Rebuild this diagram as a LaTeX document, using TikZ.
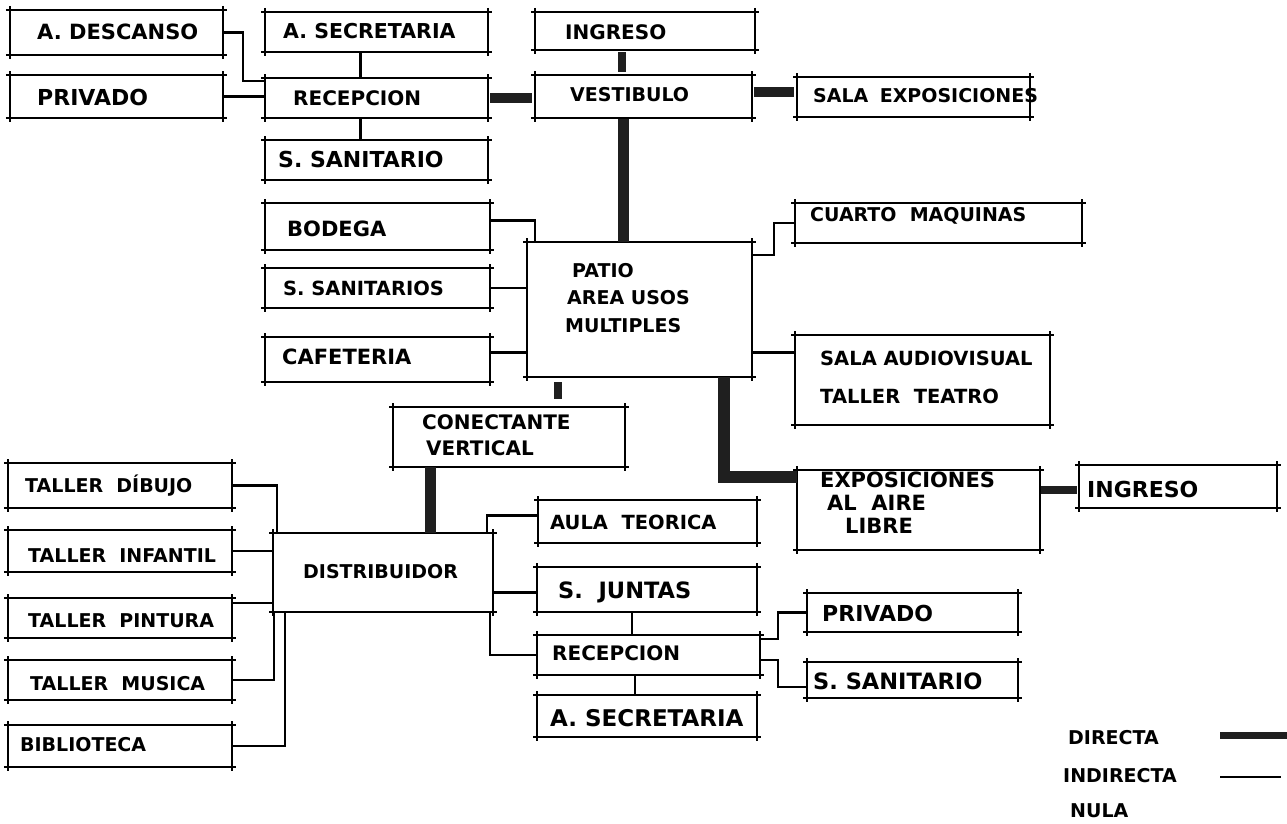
\documentclass[tikz,border=0pt]{standalone}
\usepackage{fontspec}
\setmainfont{DejaVu Sans}
\usetikzlibrary{calc}
\tikzset{
  box/.style={rectangle, draw=none, inner sep=0pt, outer sep=0pt},
  boxline/.style={line width=1.2bp, black},
  lbl/.style={anchor=west, align=left, inner sep=0pt, font=\bfseries\fontsize{19bp}{25bp}\selectfont},
  fs/.style 2 args={font=\bfseries\fontsize{#1bp}{#2bp}\selectfont},
  ind/.style={line width=2.3bp, black},
  dir/.style={line width=10bp, black!88},
}
\newcommand\bx[9][]{%
  \pgfmathsetmacro\bxw{#5-#3}%
  \pgfmathsetmacro\bxh{#6-#4}%
  \node[box, minimum width=\bxw bp, minimum height=\bxh bp] (#2) at ({(#3+#5)/2},{(#4+#6)/2}) {};
  \draw[boxline] ([xshift=-4bp]#2.north west) -- ([xshift=4bp]#2.north east)
    ([xshift=-4bp]#2.south west) -- ([xshift=4bp]#2.south east)
    ([yshift=4bp]#2.north west) -- ([yshift=-4bp]#2.south west)
    ([yshift=4bp]#2.north east) -- ([yshift=-4bp]#2.south east);
  \node[lbl,#1] (#2-t) at (#7,#8) {#9};
}
\begin{document}
\begin{tikzpicture}[x=1bp,y=-1bp]
\useasboundingbox[fill=white] (0,0) rectangle (1287,824);

\bx[fs={21}{25}]{desc}{10}{10}{223}{55}{37}{32}{A. DESCANSO}
\bx[fs={20.5}{25}]{asec}{265}{12}{488}{52}{283}{31}{A. SECRETARIA}
\bx[fs={22}{25}]{priv}{10}{75}{223}{118}{37}{97}{PRIVADO}
\bx[fs={20}{25}]{rec}{265}{78}{488}{118}{293}{98}{RECEPCION}
\bx[fs={22}{25}]{ssan}{265}{140}{488}{180}{278}{159}{S. SANITARIO}
\bx[fs={20}{25}]{ing}{535}{12}{755}{50}{565}{32}{INGRESO}
\bx{vest}{535}{75}{752}{118}{570}{95}{VESTIBULO}
\bx{salaexp}{797}{77}{1030}{117}{813}{96}{SALA\hspace{0.6em}EXPOSICIONES}
\bx[fs={21}{25}]{bod}{265}{203}{490}{250}{287}{229}{BODEGA}
\bx[fs={19.5}{25}]{ssans}{265}{268}{490}{308}{283}{288}{S. SANITARIOS}
\bx[fs={21}{25}]{caf}{265}{337}{490}{382}{282}{357}{CAFETERIA}
\bx[fs={19}{27.5}]{patio}{527}{242}{752}{377}{565}{298}{\hspace*{7bp}PATIO\\\hspace*{2bp}AREA USOS\\MULTIPLES}
\bx{cuarto}{795}{203}{1082}{243}{810}{216}{CUARTO\ \ MAQUINAS}
\bx[fs={19.5}{38}]{audio}{795}{335}{1050}{425}{820}{377}{SALA AUDIOVISUAL\\TALLER\ \ TEATRO}
\bx[fs={20}{26}]{conect}{393}{407}{625}{467}{422}{435}{CONECTANTE\\\hspace*{4bp}VERTICAL}
\bx[fs={21}{23}]{expo}{797}{470}{1040}{550}{820}{503}{EXPOSICIONES\\\hspace*{7bp}AL\ \ AIRE\\\hspace*{25bp}LIBRE}
\bx[fs={22}{25}]{ing2}{1079}{465}{1277}{508}{1087}{489}{INGRESO}
\bx{tdib}{8}{463}{232}{508}{25}{486}{TALLER\ \ DÍBUJO}
\bx{tinf}{8}{530}{232}{572}{28}{556}{TALLER\ \ INFANTIL}
\bx{tpin}{8}{598}{232}{638}{28}{621}{TALLER\ \ PINTURA}
\bx{tmus}{8}{660}{232}{700}{30}{684}{TALLER\ \ MUSICA}
\bx{bib}{8}{725}{232}{767}{20}{745}{BIBLIOTECA}
\bx{dist}{273}{533}{493}{612}{303}{572}{DISTRIBUIDOR}
\bx[fs={19.5}{25}]{aula}{538}{500}{757}{543}{550}{522}{AULA\ \ TEORICA}
\bx[fs={22.5}{25}]{junt}{537}{567}{757}{612}{558}{592}{S.\ \ JUNTAS}
\bx[fs={20}{25}]{rec2}{537}{635}{760}{675}{552}{653}{RECEPCION}
\bx[fs={22}{25}]{priv2}{807}{593}{1018}{632}{822}{613}{PRIVADO}
\bx[fs={22.5}{25}]{ssan2}{807}{662}{1018}{698}{813}{681}{S. SANITARIO}
\bx[fs={23}{25}]{asec2}{537}{695}{757}{737}{550}{718}{A. SECRETARIA}

% connectors, upper group
\draw[ind] (desc.east) -- ++(20,0) |- ([yshift=-3bp]rec.north west);
\draw[ind] (priv.east) -- (priv.east -| rec.west);
\draw[ind] ([xshift=-16bp]asec.south) -- ([xshift=-16bp]rec.north);
\draw[ind] ([xshift=-16bp]rec.south) -- ([xshift=-16bp]ssan.north);
\draw[dir,shorten <=2bp,shorten >=3bp] (rec.east) -- (rec.east -| vest.west);
\draw[dir,line width=8bp,shorten <=2bp,shorten >=3bp] ([xshift=-23bp]ing.south) -- ([xshift=-23bp]ing.south |- vest.north);
\draw[dir,shorten <=2bp,shorten >=3bp] ([yshift=5bp]vest.east) -- ([yshift=5bp]vest.east -| salaexp.west);
\draw[dir,line width=11bp,shorten <=1bp] ([xshift=-20bp]vest.south) -- ([xshift=-20bp]vest.south |- patio.north);

% patio group
\draw[ind] ([yshift=6bp]bod.east) -| ([xshift=8bp]patio.north west);
\draw[ind] (ssans.east) -- (ssans.east -| patio.west);
\draw[ind] ([yshift=7bp]caf.east) -- ([yshift=7bp]caf.east -| patio.west);
\draw[ind] ([yshift=-13bp]patio.north east) -- ++(22,0) |- (cuarto.west);
\draw[ind] ([yshift=-43bp]patio.east) -- ([yshift=-43bp]patio.east -| audio.west);
\draw[dir,line width=8bp,shorten <=5bp,shorten >=8bp] ([xshift=-82bp]patio.south) -- ([xshift=-82bp]patio.south |- conect.north);
\draw[dir,line width=12bp] ([xshift=84bp]patio.south) |- ([yshift=33bp]expo.west);
\draw[dir,line width=8bp,shorten <=1bp,shorten >=2bp] ([yshift=20bp]expo.east) -- ([yshift=20bp]expo.east -| ing2.west);
\draw[dir,line width=11bp] ([xshift=-79bp]conect.south) -- ([xshift=-79bp]conect.south |- dist.north);

% distribuidor group
\draw[ind] (tdib.east) -| ([xshift=4bp]dist.north west);
\draw[ind] (tinf.east) -- (tinf.east -| dist.west);
\draw[ind] ([yshift=15bp]tpin.east) -- ([yshift=15bp]tpin.east -| dist.west);
\draw[ind] (tmus.east) -| ([xshift=1bp]dist.south west);
\draw[ind] (bib.east) -| ([xshift=12bp]dist.south west);
\draw[ind] ([xshift=-6bp]dist.north east) |- ([yshift=6bp]aula.west);
\draw[ind] ([yshift=-20bp]dist.east) -- ([yshift=-20bp]dist.east -| junt.west);
\draw[ind] ([xshift=-3bp]dist.south east) |- (rec2.west);
\draw[ind] ([xshift=-15bp]junt.south) -- ([xshift=-15bp]junt.south |- rec2.north);
\draw[ind] ([yshift=16bp]rec2.east) -- ++(18,0) |- (priv2.west);
\draw[ind] ([yshift=-5bp]rec2.east) -- ++(18,0) |- ([yshift=-7bp]ssan2.west);
\draw[ind] ([xshift=-13.5bp]rec2.south) -- ([xshift=-13.5bp]rec2.south |- asec2.north);

% legend
\node[lbl] (ldir) at (1068,738) {DIRECTA};
\node[lbl] (lind) at (1063,776) {INDIRECTA};
\node[lbl] (lnul) at (1070,811) {NULA};
\coordinate (d1) at (1220,735);
\coordinate (d2) at (1287,735);
\coordinate (i1) at (1220,777);
\coordinate (i2) at (1281,777);
\draw[dir,line width=7bp] (d1) -- (d2);
\draw[ind] (i1) -- (i2);
\end{tikzpicture}
\end{document}
